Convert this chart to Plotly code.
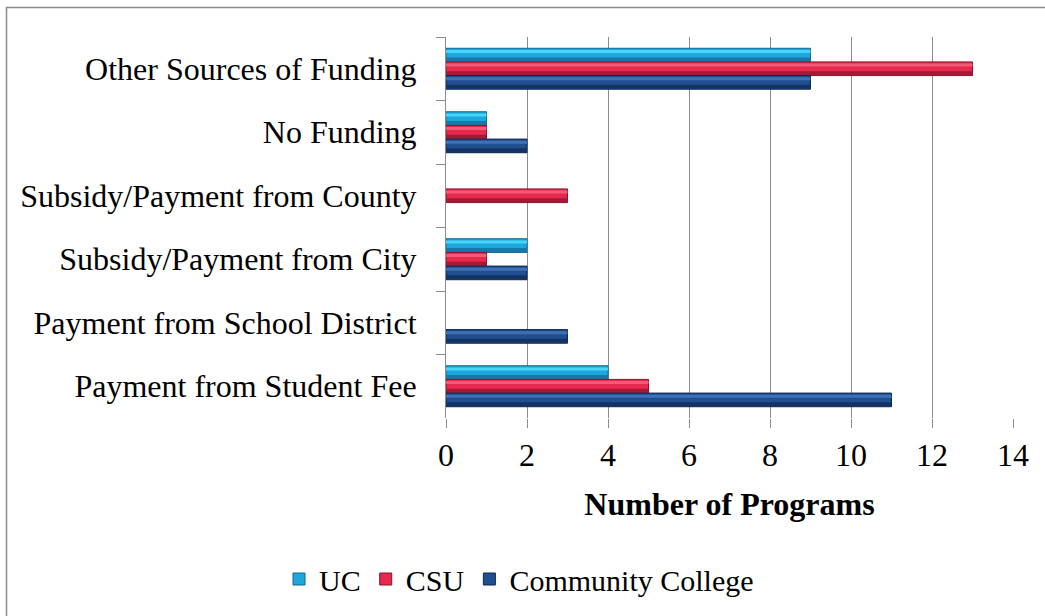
import plotly.graph_objects as go

# Funding categories, listed top to bottom
categories = [
    "Other Sources of Funding",
    "No Funding",
    "Subsidy/Payment from County",
    "Subsidy/Payment from City",
    "Payment from School District",
    "Payment from Student Fee",
]

uc = [9, 1, 0, 2, 0, 4]
csu = [13, 1, 3, 1, 0, 5]
community_college = [9, 2, 0, 2, 3, 11]

x_ticks = [0, 2, 4, 6, 8, 10, 12, 14]

# name, values, body colour, highlight colour, shade colour, edge colour
series = [
    ("UC", uc, "#1ea7dc", "#48d3fa", "#1679aa", "#12668f"),
    ("CSU", csu, "#e6294d", "#f25a78", "#a41a35", "#8a1229"),
    ("Community College", community_college, "#1f4f90", "#3f70b4", "#133463", "#0d2750"),
]

FONT = "Liberation Serif"
FS = 32

BAR_W = 0.215
GROUP_START = -1.5 * BAR_W

fig = go.Figure()
for i, (name, vals, body, hi, shade, edge) in enumerate(series):
    off = GROUP_START + i * BAR_W
    lw = [0 if v == 0 else 1 for v in vals]
    # main bar
    fig.add_trace(go.Bar(
        y=categories, x=vals, name=name, orientation="h",
        width=BAR_W, offset=off,
        marker=dict(color=body, line=dict(color=edge, width=lw)),
        hoverinfo="x+name",
    ))
    # lower shading for a rounded look
    fig.add_trace(go.Bar(
        y=categories, x=vals, orientation="h", showlegend=False,
        width=BAR_W * 0.28, offset=off + BAR_W * 0.68,
        marker=dict(color=shade, line=dict(width=0)),
        hoverinfo="skip",
    ))
    # upper highlight
    fig.add_trace(go.Bar(
        y=categories, x=vals, orientation="h", showlegend=False,
        width=BAR_W * 0.22, offset=off + BAR_W * 0.12,
        marker=dict(color=hi, line=dict(width=0)),
        hoverinfo="skip",
    ))

W, H = 1045, 616
L, R, T, B = 446, 32, 37, 197
pw = W - L - R
ph = H - T - B

def px_x(p):
    return (p - L) / pw

def px_y(p):
    return (H - B - p) / ph

fig.update_layout(
    width=W,
    height=H,
    margin=dict(l=L, r=R, t=T, b=B),
    paper_bgcolor="white",
    plot_bgcolor="white",
    barmode="overlay",
    font=dict(family=FONT, size=FS, color="black"),
    showlegend=True,
    legend=dict(
        orientation="h",
        x=px_x(519),
        xanchor="center",
        y=px_y(579),
        yanchor="middle",
        font=dict(family=FONT, size=30),
        itemwidth=30,
        tracegroupgap=0,
    ),
    xaxis=dict(
        range=[0, 14],
        tickvals=x_ticks,
        showgrid=True,
        gridcolor="#8c8c8c",
        gridwidth=1,
        showline=False,
        zeroline=False,
        ticks="outside",
        ticklen=9,
        tickcolor="#8c8c8c",
        tickfont=dict(family=FONT, size=FS),
        title=dict(
            text="<b>Number of Programs</b>",
            font=dict(family=FONT, size=FS),
            standoff=20,
        ),
    ),
    yaxis=dict(
        type="category",
        categoryorder="array",
        categoryarray=categories,
        autorange="reversed",
        showline=True,
        linecolor="#8c8c8c",
        linewidth=1,
        ticks="outside",
        tickson="boundaries",
        ticklen=9,
        tickcolor="#8c8c8c",
        showgrid=False,
        ticklabelstandoff=22,
        tickfont=dict(family=FONT, size=FS),
    ),
    shapes=[
        dict(
            type="rect",
            xref="paper",
            yref="paper",
            x0=px_x(6.5),
            x1=px_x(1060),
            y0=px_y(640),
            y1=px_y(7.5),
            line=dict(color="#8a8a8a", width=1.5),
            fillcolor="rgba(0,0,0,0)",
            layer="below",
        )
    ],
)

fig.write_html("out.html")
